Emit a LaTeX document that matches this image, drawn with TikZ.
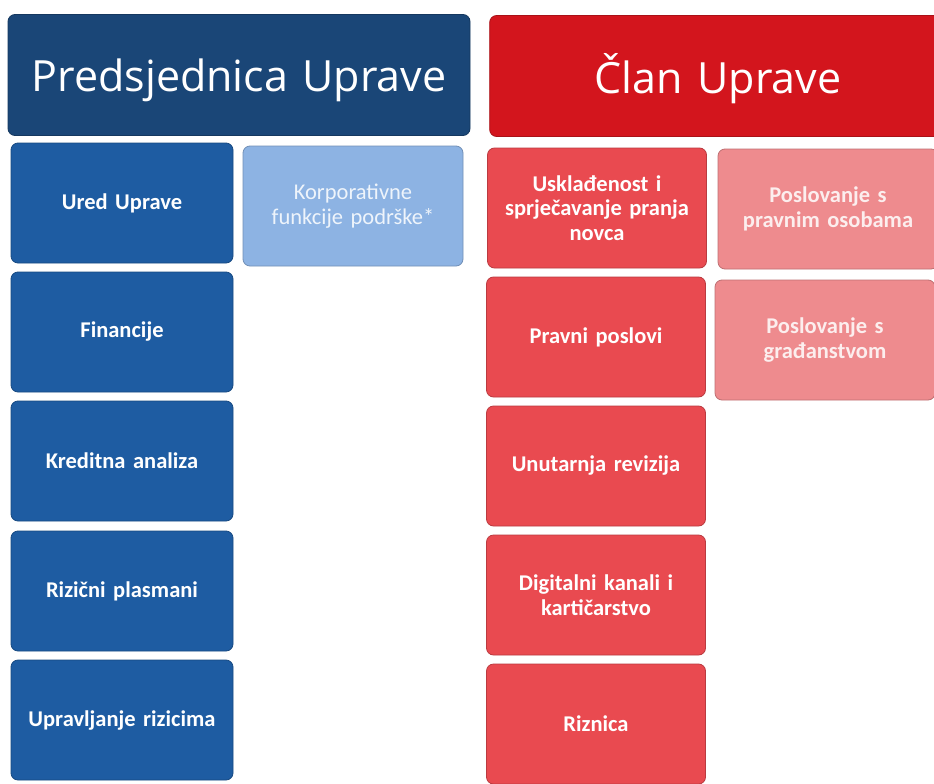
\documentclass[tikz,border=0pt]{standalone}
\usepackage{fontspec}
\setmainfont{Carlito}
\newfontfamily\headfont{Open Sans}
\definecolor{navyhead}{HTML}{1A4677}
\definecolor{bluebox}{HTML}{1E5CA2}
\definecolor{lightblue}{HTML}{8DB3E3}
\definecolor{redhead}{HTML}{D3151D}
\definecolor{redbox}{HTML}{E94A50}
\definecolor{pinkbox}{HTML}{EE8B8E}

\tikzset{
  unit/.style={rectangle, rounded corners=7pt, draw=#1!80!black, fill=#1, line width=0.8pt,
    minimum width=222pt, minimum height=120pt, text width=212pt, align=center,
    text=white, font=\bfseries\fontsize{22.5}{24.5}\selectfont},
  head/.style={unit=#1, minimum width=462pt, minimum height=121pt, text width=450pt,
    text height=34pt, text depth=0pt, font=\headfont\fontsize{43}{48}\selectfont},
  soft/.style={unit=#1, text=white!85!#1}
}

\begin{document}
\begin{tikzpicture}[x=1pt, y=-1pt]
  \useasboundingbox (0,0) rectangle (934,784);
  \clip (0,0) rectangle (934,784);
  \fill[white] (0,0) rectangle (934,784);

  % left column
  \node[head=navyhead] (pres) at (239,75) {Predsjednica Uprave};
  \node[unit=bluebox] (ured) at (122,203) {Ured Uprave};
  \node[soft=lightblue, minimum width=220pt, font=\fontsize{22.5}{24.5}\selectfont] (korp) at (353,206) {Korporativne\\funkcije podrške*};
  \node[unit=bluebox] (fin) at (122,332) {Financije};
  \node[unit=bluebox] (kred) at (122,461) {Kreditna analiza};
  \node[unit=bluebox] (riz) at (122,591) {Rizični plasmani};
  \node[unit=bluebox] (uprr) at (122,720) {Upravljanje rizicima};

  % right column
  \node[head=redhead, minimum width=456pt] (clan) at (718,76) {Član Uprave};
  \node[unit=redbox, minimum width=219pt] (uskl) at (597,208) {Usklađenost i\\sprječavanje pranja\\novca};
  \node[soft=pinkbox, minimum width=220pt] (pravo) at (828,209) {Poslovanje s\\pravnim osobama};
  \node[unit=redbox, minimum width=219pt] (prav) at (596,337) {Pravni poslovi};
  \node[soft=pinkbox, minimum width=220pt] (grad) at (825,340) {Poslovanje s\\građanstvom};
  \node[unit=redbox, minimum width=219pt] (rev) at (596,466) {Unutarnja revizija};
  \node[unit=redbox, minimum width=219pt] (dig) at (596,595) {Digitalni kanali i\\kartičarstvo};
  \node[unit=redbox, minimum width=219pt] (rizn) at (596,724) {Riznica};
\end{tikzpicture}
\end{document}
